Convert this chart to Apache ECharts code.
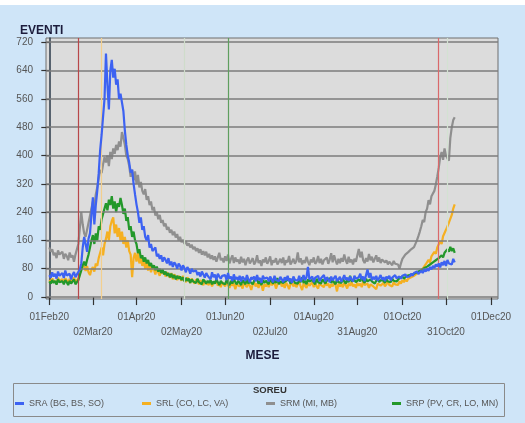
<!DOCTYPE html>
<html>
<head>
<meta charset="utf-8">
<script src="https://cdn.jsdelivr.net/npm/echarts@6/dist/echarts.min.js"></script>
<style>html,body{margin:0;padding:0;background:#cfe5f8;}#c{width:525px;height:423px;}</style>
</head>
<body>
<div id="c"></div>
<script>
// Day 0 = 01Feb20, one value per day
const tickDays = [0, 30, 60, 91, 121, 152, 182, 212, 243, 273, 304];
const tickLabels = ['01Feb20','02Mar20','01Apr20','02May20','01Jun20','02Jul20','01Aug20','31Aug20','01Oct20','31Oct20','01Dec20'];
const yTicks = [0, 80, 160, 240, 320, 400, 480, 560, 640, 720];
const seriesNames = ['SRA (BG, BS, SO)', 'SRL (CO, LC, VA)', 'SRM (MI, MB)', 'SRP (PV, CR, LO, MN)'];
const eventDays = [20, 36, 93, 123, 268, 274];

const sra = [
62,55,70,58,66,52,72,60,57,68, 54,75,61,58,66,50,63,71,56,64,
60,78,95,140,170,150,128,165,180,232, 282,205,260,300,350,415,458,510,560,688,
600,530,640,670,620,645,600,615,560,575, 550,525,470,430,400,380,352,360,320,290,
262,240,210,225,190,200,170,160,175,140, 150,130,125,140,115,122,108,118,100,112,
105,95,110,90,100,85,98,92,80,95, 88,75,90,82,70,85,78,66,80,72,
68,75,62,70,58,72,64,55,68,60, 62,50,70,56,64,48,66,58,52,60,
55,62,48,68,52,58,45,64,50,56, 48,60,44,58,52,46,62,50,42,56,
50,58,45,62,48,54,40,60,52,47, 55,44,58,50,42,60,48,53,45,57,
50,42,56,47,60,45,52,40,58,49, 54,46,60,44,52,62,48,56,85,50,
46,58,42,55,50,60,45,53,48,62, 44,56,50,42,58,47,54,60,45,51,
57,43,52,62,48,55,46,58,50,44, 60,52,47,56,66,50,58,45,62,78,
55,68,48,57,50,60,46,54,62,49, 56,45,58,52,60,47,55,50,62,53,
48,58,52,60,55,64,57,62,58,66, 60,68,63,72,65,70,74,68,78,72,
80,74,85,78,88,82,92,86,95,84, 98,90,102,88,105,95,100,92,108,98
];
const srl = [
48,42,52,45,50,40,55,46,44,50, 42,53,47,40,51,44,49,55,43,48,
52,66,80,92,85,74,88,70,62,78, 85,72,95,88,110,125,140,118,150,165,
185,160,200,215,225,180,205,170,195,160, 185,150,170,140,160,130,120,56,110,125,
100,124,95,110,88,105,80,98,75,92, 70,85,78,64,82,70,60,76,66,72,
58,70,62,55,68,50,64,58,48,60, 55,46,60,50,42,56,48,40,52,45,
38,50,44,36,48,40,34,46,38,42, 35,44,30,40,36,46,32,38,28,42,
36,30,44,34,26,40,32,38,22,36, 40,30,36,24,42,34,28,38,32,20,
36,42,30,38,26,40,34,18,36,30, 38,28,42,34,30,40,24,36,32,44,
30,38,26,40,34,22,36,42,30,38, 28,36,44,30,20,38,34,26,40,32,
36,42,28,38,30,24,40,34,36,28, 44,32,38,26,36,30,42,34,16,38,
30,36,28,40,34,24,38,32,42,30, 36,26,40,32,38,28,44,34,30,38,
26,36,40,30,34,22,38,42,32,36, 40,30,36,44,34,38,30,42,36,40,
34,44,38,48,42,50,44,52,48,56, 52,60,56,66,62,72,68,80,76,92,
88,105,98,115,110,128,122,140,135,158, 150,172,168,190,185,210,205,232,250,262
];
const srm = [
140,128,135,118,125,110,132,120,115,128, 108,122,116,104,126,112,118,100,120,124,
150,195,240,205,180,170,190,210,230,250, 270,255,290,310,335,360,350,375,395,380,
400,370,410,390,420,405,430,415,440,425, 466,450,430,400,390,370,340,360,330,355,
320,345,310,325,300,290,305,275,285,260, 270,245,255,230,240,220,232,210,218,200,
208,190,198,182,190,175,185,168,178,160, 170,155,162,150,158,145,152,140,148,135,
142,130,138,125,135,120,130,118,128,112, 122,108,118,105,115,100,112,125,104,110,
98,115,102,120,95,108,118,96,112,100, 106,94,114,98,108,90,104,112,95,102,
110,92,100,118,96,104,88,106,98,112, 94,102,115,90,104,98,110,92,100,108,
96,112,90,104,98,116,92,100,108,94, 102,126,98,110,92,104,96,114,100,90,
106,98,112,94,100,116,96,108,92,104, 100,112,94,106,124,98,118,104,92,108,
96,110,100,120,104,94,114,98,106,92, 108,100,118,136,112,128,104,96,110,100,
122,104,114,98,108,118,100,112,96,106, 110,98,104,92,100,96,90,102,94,98,
92,80,95,108,104,120,115,127,122,135, 133,141,138,160,172,185,200,218,212,240,
250,274,262,285,290,300,318,340,365,395, 410,388,420,400,392,385,450,480,500,508
];
const srp = [
44,38,48,40,46,35,50,42,38,45, 36,48,42,34,46,38,44,50,36,42,
48,62,75,90,100,88,105,120,140,160, 175,150,180,160,200,190,220,235,250,265,
245,275,260,285,250,270,240,265,255,280, 260,235,250,215,226,190,200,170,185,160,
150,124,135,110,118,100,112,95,105,88, 96,82,90,76,86,72,80,68,78,64,
72,60,68,56,66,54,62,50,60,52, 58,48,56,44,54,46,52,40,50,44,
48,40,52,42,46,36,50,44,38,46, 40,48,36,44,38,50,42,34,46,40,
44,36,48,40,34,46,38,52,42,36, 46,40,34,48,42,36,50,38,44,40,
36,46,42,50,38,44,34,48,40,46, 42,36,50,44,38,48,40,54,36,44,
48,40,36,46,42,52,38,44,50,40, 44,38,48,42,56,40,46,36,50,44,
40,48,44,36,52,42,46,38,50,44, 38,46,42,54,40,48,44,36,50,42,
46,40,52,44,38,48,42,60,44,40, 48,42,38,50,44,58,46,40,52,44,
40,50,44,48,38,46,52,42,48,44, 46,40,50,44,48,42,52,46,50,44,
48,54,50,58,52,56,60,55,62,58, 64,60,68,65,72,70,76,74,82,78,
86,82,92,88,98,95,104,100,110,106, 118,112,125,120,135,128,142,130,138,125
];

const colors = ['#3d62f2', '#f5b021', '#8f8f8f', '#23982a'];
const eventColors = ['#b8474a', '#f3cf8e', '#cfdccb', '#5f9f5f', '#d9696b', '#d3e2d2'];
const FONT = 'Liberation Sans, Arial, sans-serif';

const toPairs = arr => arr.map((v, i) => [i, v]);

const chart = echarts.init(document.getElementById('c'), null, {renderer: 'canvas'});

const mkSeries = (name, data, color, z) => ({
  name, type: 'line', data: toPairs(data), showSymbol: false, symbol: 'none',
  z, lineStyle: {color, width: 2.2}, itemStyle: {color}, animation: false
});

const legends = seriesNames.map((n, i) => ({
  data: [n], left: [15, 142, 266, 392][i], top: 399, icon: 'rect', padding: 0,
  itemWidth: 9, itemHeight: 3, itemGap: 2,
  textStyle: {color: '#555', fontSize: 9, fontFamily: FONT},
  selectedMode: false
}));

chart.setOption({
  backgroundColor: '#cfe5f8',
  animation: false,
  grid: {left: 46, right: 27, top: 38, bottom: 124, show: true, backgroundColor: '#dcdcdc', borderColor: '#6e6e6e', borderWidth: 1},
  xAxis: {
    type: 'value', min: -2.27, max: 308.8, offset: 3,
    axisLine: {show: false},
    axisTick: {show: true, length: 8, customValues: tickDays, lineStyle: {color: '#333', width: 1.2}},
    axisLabel: {
      customValues: tickDays, margin: 8, color: '#555', fontSize: 10, fontFamily: FONT, lineHeight: 15,
      formatter: v => { const i = tickDays.indexOf(v); return i < 0 ? '' : (i % 2 ? '\n' + tickLabels[i] : tickLabels[i]); }
    },
    splitLine: {show: false}
  },
  yAxis: {
    type: 'value', min: -5.5, max: 732,
    axisLine: {show: true, lineStyle: {color: '#2b3a4a', width: 1.5}},
    axisTick: {show: true, length: 8, customValues: yTicks, lineStyle: {color: '#333', width: 1.2}},
    axisLabel: {customValues: yTicks, margin: 13, color: '#555', fontSize: 10, fontFamily: FONT},
    splitLine: {show: false}
  },
  legend: legends,
  series: [
    {
      type: 'line', data: [], z: 1, silent: true,
      markLine: {
        silent: true, symbol: 'none', label: {show: false}, animation: false,
        data: yTicks.map(v => ({yAxis: v, lineStyle: {color: '#7c7c7c', width: 1.6, type: 'solid'}}))
          .concat(eventDays.map((d, i) => ({xAxis: d, lineStyle: {color: eventColors[i], width: 1.2, type: 'solid'}})))
      }
    },
    mkSeries(seriesNames[2], srm, colors[2], 2),
    mkSeries(seriesNames[1], srl, colors[1], 3),
    mkSeries(seriesNames[3], srp, colors[3], 4),
    mkSeries(seriesNames[0], sra, colors[0], 5)
  ],
  graphic: [
    {type: 'rect', shape: {x: 0, y: 0, width: 525, height: 5}, style: {fill: '#ffffff'}, silent: true},
    {type: 'text', left: 20, top: 25, style: {text: 'EVENTI', font: 'bold 12px ' + FONT, fill: '#1c1c3c'}},
    {type: 'text', left: 'center', top: 350, style: {text: 'MESE', font: 'bold 12px ' + FONT, fill: '#1c1c3c'}},
    {type: 'rect', shape: {x: 13.5, y: 383.5, width: 491, height: 33}, style: {fill: 'none', stroke: '#8a8a8a', lineWidth: 1}, silent: true},
    {type: 'text', left: 253, top: 385, style: {text: 'SOREU', font: 'bold 9.5px ' + FONT, fill: '#333'}}
  ]
});
</script>
</body>
</html>
